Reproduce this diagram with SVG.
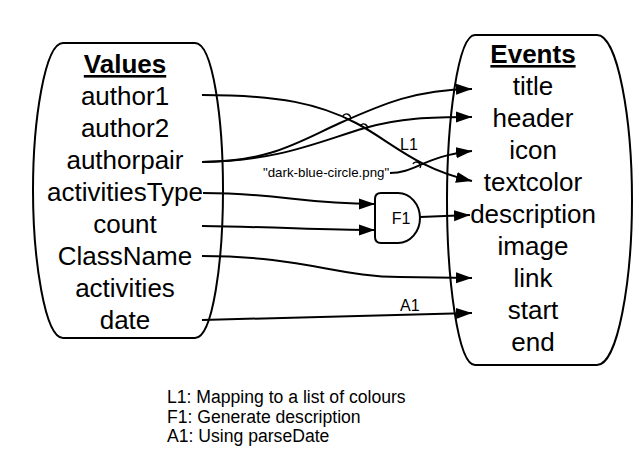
<svg xmlns="http://www.w3.org/2000/svg" width="639" height="476" viewBox="0 0 639 476">
<style>
.shape{fill:#fff;stroke:#000;stroke-width:2}
.big{font-family:"Liberation Sans",Arial,sans-serif;font-size:26px;fill:#000;text-anchor:middle}
.title{font-weight:bold;text-decoration:underline}
.conn{fill:none;stroke:#000;stroke-width:2}
.hop{fill:none;stroke:#000;stroke-width:1.5}
.lbl{font-family:"Liberation Sans",Arial,sans-serif;font-size:16px;fill:#000}
.small{font-family:"Liberation Sans",Arial,sans-serif;font-size:13.3px;fill:#000}
.legend{font-family:"Liberation Sans",Arial,sans-serif;font-size:17.6px;fill:#000}
</style>
<defs>
<marker id="arr" markerUnits="userSpaceOnUse" markerWidth="16" markerHeight="12" refX="16" refY="6" orient="auto">
<path d="M0,0.5 L16,6 L0,11.5 Z" fill="#000"/>
</marker>
</defs>
<rect width="639" height="476" fill="#fff"/>
<g id="values">
<path class="shape" d="M63,43 H195 C213,43 223,120 223,190 C223,260 213,338 195,338 H63 C45,338 33,260 33,190 C33,120 45,43 63,43 Z"/>
<text class="big title" x="125" y="73">Values</text>
<text class="big" x="125" y="105">author1</text>
<text class="big" x="125" y="137">author2</text>
<text class="big" x="125" y="169">authorpair</text>
<text class="big" x="125" y="201">activitiesType</text>
<text class="big" x="125" y="233">count</text>
<text class="big" x="125" y="265">ClassName</text>
<text class="big" x="125" y="297">activities</text>
<text class="big" x="125" y="329">date</text>
</g>
<g id="events">
<path class="shape" d="M475,35 H597 C618,35 632,120 632,200 C632,280 618,365 597,365 H475 C458,365 447,280 447,200 C447,120 458,35 475,35 Z"/>
<text class="big title" x="533" y="63">Events</text>
<text class="big" x="533" y="95">title</text>
<text class="big" x="533" y="127">header</text>
<text class="big" x="533" y="159">icon</text>
<text class="big" x="533" y="191">textcolor</text>
<text class="big" x="533" y="223">description</text>
<text class="big" x="533" y="255">image</text>
<text class="big" x="533" y="287">link</text>
<text class="big" x="533" y="319">start</text>
<text class="big" x="533" y="351">end</text>
</g>
<g id="f1">
<path class="shape" d="M381,193 H398 A22,25 0 0 1 398,243 H381 Q375,243 375,237 V199 Q375,193 381,193 Z"/>
<text class="lbl" x="401" y="224" text-anchor="middle">F1</text>
</g>
<g id="const">
<text class="small" x="263" y="177">"dark-blue-circle.png"</text>
</g>
<g id="connectors">
<path class="conn" marker-end="url(#arr)" d="M202,162 C270,162 300,141 340,123 C385,103 415,90 472,89"/>
<path class="conn" marker-end="url(#arr)" d="M202,162 C280,161 320,141 365,128 C400,118 430,117 472,117"/>
<path class="conn" marker-end="url(#arr)" d="M202,95 C280,95 320,104 356,123 C392,142 415,168 472,181"/>
<path class="conn" marker-end="url(#arr)" d="M390,173 C415,173 425,156 472,151"/>
<path class="hop" d="M343,116 A3.5,3.5 0 0 1 350,120"/>
<path class="hop" d="M360,126 A3.5,3.5 0 0 1 367,130"/>
<path class="hop" d="M413,164 A3.5,3.5 0 0 1 420,168"/>
<text class="lbl" x="400" y="150">L1</text>
<path class="conn" marker-end="url(#arr)" d="M203,193 C280,193 300,204 375,204"/>
<path class="conn" marker-end="url(#arr)" d="M202,226 C280,227 320,230 375,230"/>
<path class="conn" marker-end="url(#arr)" d="M420,217 L470,215"/>
<path class="conn" marker-end="url(#arr)" d="M202,256 C300,256 340,277 400,277 L472,278"/>
<path class="conn" marker-end="url(#arr)" d="M202,320 L472,313"/>
<text class="lbl" x="400" y="311">A1</text>
</g>
<g id="legend">
<text class="legend" x="167" y="403">L1: Mapping to a list of colours</text>
<text class="legend" x="167" y="423">F1: Generate description</text>
<text class="legend" x="167" y="442">A1: Using parseDate</text>
</g>
</svg>
